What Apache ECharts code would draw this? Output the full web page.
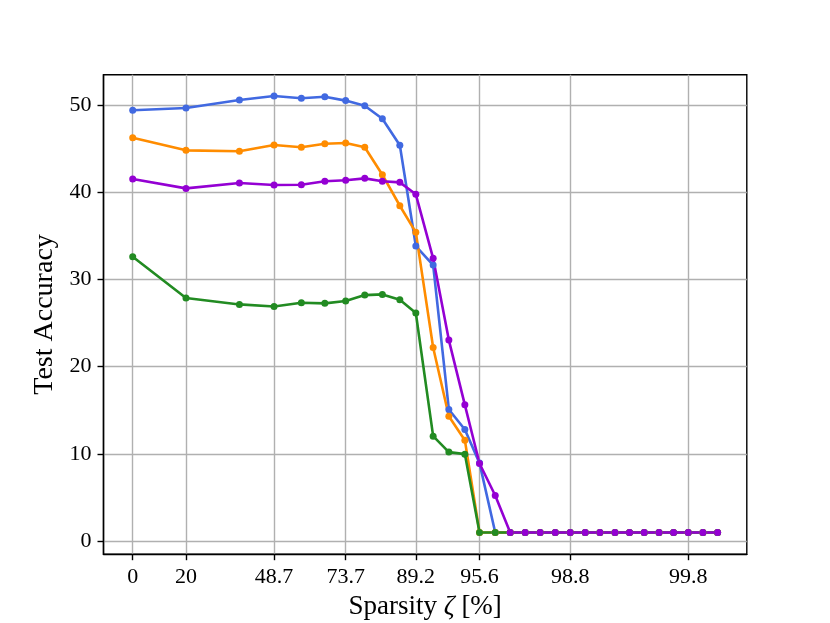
<!DOCTYPE html>
<html>
<head>
<meta charset="utf-8">
<script src="https://cdn.jsdelivr.net/npm/echarts@6/dist/echarts.min.js"></script>
<style>html,body{margin:0;padding:0;background:#fff}#c{width:830px;height:623px}</style>
</head>
<body>
<div id="c"></div>
<script>
// Position of each pruning step on the original's (warped) sparsity axis
const xPos = [0, 3.63, 7.27, 9.63, 11.49, 13.09, 14.51, 15.81, 17.01, 18.20, 19.29, 20.47, 21.54, 22.63, 23.63, 24.70,
  25.72, 26.74, 27.76, 28.79, 29.81, 30.83, 31.83, 32.86, 33.85, 34.85, 35.86, 36.85, 37.85, 38.85, 39.85];
// Pruning steps that carry a tick, and their sparsity labels
const tickSteps = [0, 1, 3, 6, 10, 14, 20, 28];
const tickLabels = ['0', '20', '48.7', '73.7', '89.2', '95.6', '98.8', '99.8'];
const yTicks = [0, 10, 20, 30, 40, 50];

const blue = [49.39, 49.66, 50.57, 51.03, 50.77, 50.95, 50.50, 49.92, 48.43, 45.38, 33.83, 31.65, 15.10, 12.81, 8.95,
  1.0, 1.0, 1.0, 1.0, 1.0, 1.0, 1.0, 1.0, 1.0, 1.0, 1.0, 1.0, 1.0, 1.0, 1.0, 1.0];
const orange = [46.25, 44.80, 44.69, 45.41, 45.15, 45.56, 45.64, 45.15, 42.01, 38.45, 35.40, 22.20, 14.33, 11.58,
  1.0, 1.0, 1.0, 1.0, 1.0, 1.0, 1.0, 1.0, 1.0, 1.0, 1.0, 1.0, 1.0, 1.0, 1.0, 1.0, 1.0];
const green = [32.60, 27.87, 27.14, 26.91, 27.33, 27.26, 27.54, 28.21, 28.29, 27.67, 26.15, 12.04, 10.21, 9.98,
  1.0, 1.0, 1.0, 1.0, 1.0, 1.0, 1.0, 1.0, 1.0, 1.0, 1.0, 1.0, 1.0, 1.0, 1.0, 1.0, 1.0];
const purple = [41.51, 40.44, 41.06, 40.83, 40.86, 41.25, 41.38, 41.59, 41.25, 41.13, 39.76, 32.42, 23.05, 15.63, 8.91, 5.24,
  1.0, 1.0, 1.0, 1.0, 1.0, 1.0, 1.0, 1.0, 1.0, 1.0, 1.0, 1.0, 1.0, 1.0, 1.0];

const tickPos = tickSteps.map(k => xPos[k]);
const FONT = 'Liberation Serif';

function mk(name, vals, color) {
  return {
    name, type: 'line', data: vals.map((v, i) => [xPos[i], v]),
    symbol: 'circle', symbolSize: 7, showSymbol: true,
    lineStyle: { color, width: 2.6 }, itemStyle: { color },
    emphasis: { disabled: true }, animation: false
  };
}

const chart = echarts.init(document.getElementById('c'), null, { renderer: 'canvas' });
chart.setOption({
  animation: false,
  backgroundColor: '#fff',
  grid: { left: 103.5, top: 74.7, width: 643.3, height: 479.5, outerBoundsMode: 'none', containLabel: false,
    show: true, borderColor: '#000', borderWidth: 1.4, backgroundColor: 'transparent' },
  xAxis: {
    type: 'value', min: -1.99, max: 41.84,
    name: 'Sparsity {i|ζ} [%]', nameLocation: 'middle', nameGap: 37,
    nameTextStyle: { fontFamily: FONT, fontSize: 27, color: '#000', rich: { i: { fontFamily: FONT, fontSize: 27, fontStyle: 'italic', color: '#000' } } },
    axisLine: { show: true, onZero: false, lineStyle: { color: '#000', width: 1.4 } },
    axisTick: { show: true, inside: false, length: 6, lineStyle: { color: '#000', width: 1.4 }, customValues: tickPos },
    axisLabel: {
      customValues: tickPos, margin: 12, fontFamily: FONT, fontSize: 22, color: '#000',
      formatter: v => { let b = 0; tickPos.forEach((p, i) => { if (Math.abs(p - v) < Math.abs(tickPos[b] - v)) b = i; }); return tickLabels[b]; }
    },
    splitLine: { show: true, lineStyle: { color: '#b0b0b0', width: 1.4 } }
  },
  yAxis: {
    type: 'value', min: -1.49, max: 53.47,
    name: 'Test Accuracy', nameLocation: 'middle', nameGap: 38,
    nameTextStyle: { fontFamily: FONT, fontSize: 28, color: '#000' },
    axisLine: { show: true, onZero: false, lineStyle: { color: '#000', width: 1.4 } },
    axisTick: { show: true, inside: false, length: 6, lineStyle: { color: '#000', width: 1.4 }, customValues: yTicks },
    axisLabel: { customValues: yTicks, margin: 12, fontFamily: FONT, fontSize: 22, color: '#000' },
    splitLine: { show: true, lineStyle: { color: '#b0b0b0', width: 1.4 } }
  },
  series: [
    mk('blue', blue, '#4169E1'),
    mk('orange', orange, '#FF8C00'),
    mk('green', green, '#228B22'),
    mk('purple', purple, '#9400D3')
  ]
});
</script>
</body>
</html>
